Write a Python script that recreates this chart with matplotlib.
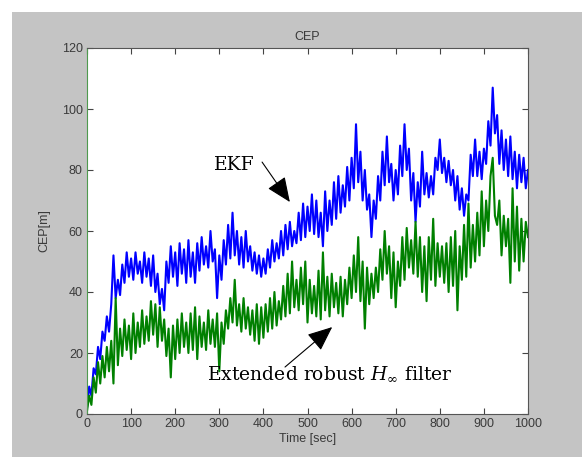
import numpy as np
import matplotlib
matplotlib.use('Agg')
import matplotlib.pyplot as plt
from matplotlib.patches import Rectangle

# CEP of EKF, read every 5 s from the picture (0 ... 1000 s)
ekf_cep = [
    2, 9, 6, 15, 13, 22, 18, 27, 24, 32,
    27, 36, 52, 38, 44, 39, 49, 43, 53, 45,
    51, 44, 53, 46, 50, 43, 53, 45, 51, 42,
    52, 40, 46, 36, 41, 34, 50, 43, 55, 45,
    53, 42, 56, 46, 54, 43, 57, 45, 53, 43,
    56, 47, 58, 49, 55, 48, 60, 50, 54, 38,
    52, 44, 57, 49, 62, 51, 66, 52, 60, 49,
    58, 48, 60, 50, 55, 47, 53, 46, 52, 45,
    51, 46, 54, 48, 57, 50, 56, 51, 60, 52,
    62, 54, 63, 55, 60, 56, 66, 57, 69, 58,
    68, 60, 72, 59, 70, 58, 66, 55, 73, 60,
    70, 62, 76, 64, 78, 66, 75, 68, 81, 70,
    84, 74, 95, 76, 86, 70, 80, 67, 72, 58,
    70, 64, 78, 70, 86, 75, 91, 76, 82, 70,
    80, 72, 88, 78, 95, 80, 87, 70, 79, 63,
    76, 68, 86, 72, 79, 71, 78, 72, 84, 80,
    90, 79, 84, 76, 83, 75, 80, 70, 78, 67,
    74, 65, 72, 70, 85, 78, 90, 78, 86, 77,
    87, 82, 96, 88, 107, 92, 98, 82, 93, 80,
    90, 78, 91, 77, 86, 74, 85, 76, 84, 74,
    80,
]

# CEP of extended robust H-infinity filter, same sampling
hinf_cep = [
    1, 6, 3, 12, 7, 17, 10, 19, 12, 22,
    14, 24, 10, 38, 16, 28, 19, 31, 21, 29,
    18, 33, 20, 30, 22, 34, 23, 32, 24, 37,
    26, 36, 22, 35, 24, 31, 19, 28, 12, 29,
    18, 31, 20, 33, 22, 30, 20, 33, 21, 35,
    18, 32, 22, 30, 21, 34, 23, 31, 22, 33,
    14, 30, 23, 34, 28, 38, 30, 44, 29, 36,
    27, 38, 28, 35, 26, 34, 24, 36, 23, 35,
    25, 36, 27, 38, 28, 40, 29, 37, 31, 42,
    32, 46, 33, 50, 35, 44, 34, 48, 36, 50,
    30, 44, 33, 42, 32, 47, 31, 53, 34, 45,
    32, 46, 35, 43, 33, 45, 32, 44, 36, 48,
    38, 52, 40, 58, 37, 50, 28, 48, 36, 46,
    38, 48, 40, 54, 44, 60, 46, 55, 38, 53,
    35, 50, 42, 58, 44, 61, 48, 57, 46, 63,
    45, 58, 40, 55, 37, 58, 44, 64, 42, 56,
    45, 55, 43, 56, 40, 58, 42, 60, 34, 55,
    44, 62, 45, 69, 48, 62, 50, 66, 52, 73,
    55, 70, 60, 78, 84, 65, 62, 70, 52, 65,
    55, 64, 43, 74, 50, 68, 47, 64, 50, 63,
    58,
]

x_ticks = [0, 100, 200, 300, 400, 500, 600, 700, 800, 900, 1000]
y_ticks = [0, 20, 40, 60, 80, 100, 120]

t_ekf = np.linspace(0, 1000, len(ekf_cep))
t_hinf = np.linspace(0, 1000, len(hinf_cep))

plt.rcParams['mathtext.fontset'] = 'dejavuserif'

fig = plt.figure(figsize=(5.82, 4.57), dpi=100, facecolor='#c4c4c4')
# white strips at top and left, outside the grey MATLAB figure area
fig.patches.append(Rectangle((0, 1 - 12 / 457), 1, 12 / 457,
                             transform=fig.transFigure, facecolor='white',
                             edgecolor='none'))
fig.patches.append(Rectangle((0, 0), 12 / 582, 1,
                             transform=fig.transFigure, facecolor='white',
                             edgecolor='none'))

ax = fig.add_axes([87 / 582, 43 / 457, 441 / 582, 366 / 457])
ax.set_facecolor('white')

ax.plot(t_ekf, ekf_cep, color='#0000ff', linewidth=1.5)
ax.plot(t_hinf, hinf_cep, color='#008000', linewidth=1.5)

ax.set_xlim(0, 1000)
ax.set_ylim(0, 120)
ax.set_xticks(x_ticks)
ax.set_yticks(y_ticks)

tick_font = {'family': ['Liberation Sans Narrow', 'Liberation Sans'], 'size': 9}
ax.set_xticklabels([str(v) for v in x_ticks], fontdict=tick_font, color='#3a3a3a')
ax.set_yticklabels([str(v) for v in y_ticks], fontdict=tick_font, color='#3a3a3a')
ax.tick_params(direction='in', length=4, width=0.8, color='#444444',
               top=True, right=True, pad=3)

for side in ['top', 'right', 'bottom']:
    ax.spines[side].set_color('#555555')
ax.spines['left'].set_color('#4f9a4f')

ax.set_title('CEP', fontdict=tick_font, color='#3a3a3a', pad=6)
ax.set_xlabel('Time [sec]', fontdict=tick_font, color='#3a3a3a', labelpad=2)
ax.set_ylabel('CEP[m]', fontdict=tick_font, color='#3a3a3a', labelpad=8)

arrow = dict(arrowstyle='-|>,head_length=0.7,head_width=0.3', mutation_scale=22,
             lw=0.8, color='black', shrinkA=0, shrinkB=0)
ax.annotate('', xy=(460, 69.5), xytext=(397, 82.6), arrowprops=arrow)
ax.text(288, 81.6, 'EKF', family='DejaVu Serif', fontsize=13.5,
        ha='left', va='center')

ax.annotate('', xy=(556, 28.5), xytext=(449, 15.4), arrowprops=arrow)
ax.text(272, 13.4, r'Extended robust $H_{\infty}$ filter', family='DejaVu Serif',
        fontsize=13.5, ha='left', va='center')

fig.savefig('out.png', dpi=100, facecolor=fig.get_facecolor())
